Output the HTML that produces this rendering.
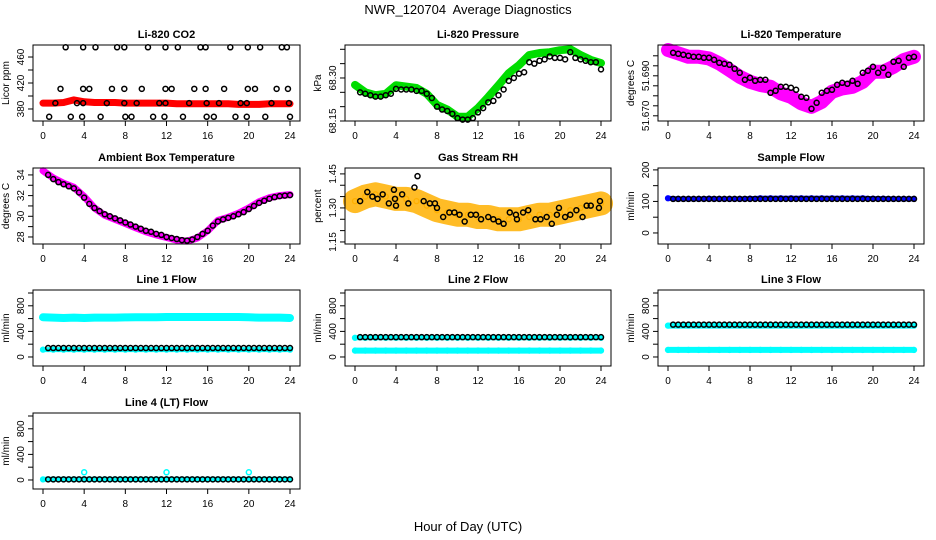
<!DOCTYPE html>
<html><head><meta charset="utf-8"><style>
html,body{margin:0;padding:0;background:#fff;}
svg{display:block;font-family:"Liberation Sans",sans-serif;}
</style></head><body>
<svg id="chart" width="936" height="540" viewBox="0 0 936 540" xmlns="http://www.w3.org/2000/svg">
<text x="468" y="14" text-anchor="middle" font-size="13" style="white-space:pre">NWR_120704  Average Diagnostics</text>
<text x="468" y="531" text-anchor="middle" font-size="13">Hour of Day (UTC)</text>
</svg>
<script>
const hours = [0,1,2,3,4,5,6,7,8,9,10,11,12,13,14,15,16,17,18,19,20,21,22,23,24];
const halfHours = [0.5,1,1.5,2,2.5,3,3.5,4,4.5,5,5.5,6,6.5,7,7.5,8,8.5,9,9.5,10,10.5,11,11.5,12,12.5,13,13.5,14,14.5,15,15.5,16,16.5,17,17.5,18,18.5,19,19.5,20,20.5,21,21.5,22,22.5,23,23.5,24];
const xTicks = [0,4,8,12,16,20,24];

// CO2
const co2Band = [389,389,390,394,391,390,390,390,389,389,389,389,389,388,388,388,388,388,388,387,387,387,388,388,388];
const co2Hours = [2.2,3.9,5.1,7.2,7.9,10.2,11.9,13.1,15.3,15.8,18.2,19.9,21.1,23.2,23.7, 1.7,3.9,4.5,6.7,7.9,9.6,11.9,12.5,14.7,15.8,17.6,19.9,20.6,22.7,23.8, 0.6,2.7,3.8,5.6,8.0,8.6,10.7,11.8,13.6,15.9,16.6,18.7,19.8,21.6,24.0, 1.2,3.3,3.9,6.2,7.9,9.1,11.3,11.9,14.2,15.9,17.1,19.2,19.8,22.2,23.9];
const co2Vals = [475,475,475,475,475,475,475,475,475,475,475,475,475,475,475, 411,411,411,411,411,411,411,411,411,411,411,411,411,411,411, 368,368,368,368,368,368,368,368,368,368,368,368,368,368,368, 389,389,389,389,389,389,389,389,389,389,389,389,389,389,389];
// Pressure
const presBand = [68.276,68.25,68.24,68.245,68.275,68.27,68.265,68.245,68.206,68.19,68.165,68.165,68.195,68.234,68.275,68.317,68.345,68.38,68.387,68.39,68.397,68.4,68.38,68.363,68.352];
const presBlack = [68.25,68.245,68.24,68.235,68.235,68.24,68.245,68.262,68.26,68.26,68.26,68.255,68.255,68.245,68.23,68.2,68.19,68.185,68.175,68.16,68.155,68.155,68.16,68.18,68.195,68.215,68.22,68.24,68.26,68.29,68.3,68.315,68.32,68.355,68.35,68.36,68.365,68.375,68.37,68.37,68.365,68.39,68.37,68.365,68.36,68.355,68.355,68.33];
// Li-820 temperature
const tempBand = [51.7029,51.7012,51.6995,51.6995,51.6987,51.6962,51.6929,51.6895,51.687,51.6854,51.6845,51.6812,51.6795,51.6762,51.6745,51.677,51.682,51.6837,51.6845,51.687,51.692,51.692,51.6945,51.6979,51.6995];
const tempBlack = [51.7015,51.701,51.7005,51.7,51.6995,51.6995,51.699,51.699,51.698,51.6965,51.696,51.6955,51.6935,51.6915,51.688,51.689,51.6875,51.688,51.688,51.6815,51.6825,51.6845,51.6845,51.684,51.683,51.6795,51.679,51.6735,51.6765,51.6815,51.6825,51.683,51.6855,51.6865,51.686,51.6875,51.686,51.6915,51.6925,51.6945,51.6915,51.694,51.6905,51.697,51.6975,51.6945,51.699,51.6995];
// Ambient
const ambBand = [34.4,33.7,33.2,32.8,31.9,30.8,30.1,29.7,29.3,28.9,28.5,28.2,27.95,27.7,27.6,27.9,28.6,29.6,29.9,30.3,30.8,31.4,31.8,32.0,32.1];
const ambBlack = [34.0,33.6,33.3,33.1,32.9,32.7,32.3,31.8,31.2,30.8,30.5,30.2,30.0,29.8,29.6,29.4,29.2,29.0,28.8,28.6,28.5,28.3,28.2,28.0,27.9,27.8,27.7,27.65,27.75,28.0,28.3,28.6,29.1,29.5,29.7,29.85,30.0,30.2,30.4,30.7,31.0,31.3,31.5,31.7,31.85,31.95,32.0,32.05];
// RH
const rhBand = [1.33,1.35,1.36,1.35,1.34,1.34,1.33,1.31,1.29,1.28,1.27,1.27,1.26,1.26,1.25,1.25,1.25,1.26,1.27,1.27,1.28,1.29,1.30,1.31,1.32];
const rhHours = [0.5,1.2,1.7,2.2,2.7,3.3,3.8,3.9,4.0,4.6,5.2,5.8,6.1,6.7,7.3,7.8,8.0,8.6,9.2,9.7,10.2,10.7,11.3,11.8,12.3,13.0,13.5,14.0,14.5,15.1,15.7,15.8,16.4,16.9,17.6,18.1,18.7,19.2,19.7,19.9,20.5,21.0,21.6,22.2,22.6,23.0,23.8,23.9];
const rhVals = [1.33,1.37,1.35,1.34,1.36,1.32,1.38,1.34,1.31,1.36,1.32,1.39,1.44,1.33,1.32,1.32,1.30,1.26,1.28,1.28,1.27,1.24,1.27,1.27,1.25,1.26,1.25,1.24,1.23,1.28,1.27,1.25,1.28,1.29,1.25,1.25,1.26,1.23,1.27,1.30,1.26,1.27,1.29,1.26,1.31,1.31,1.30,1.33];
// Flows
const sampleBand = [110,108,108,108,109,108,108,108,109,110,110,110,110,110,110,110,110,110,110,110,109,109,108,108,108];
const sampleBlack = [108];
const line1Upper = [620,615,610,615,610,615,615,615,618,620,620,620,625,625,625,625,625,625,625,625,620,615,615,615,610];
const line1Lower = [115];
const line1Black = [140];
const line2Upper = [300];
const line2Lower = [100];
const line2Black = [310];
const line3Upper = [490];
const line3Lower = [110];
const line3Black = [505];
const line4Cyan = [10];
const line4Black = [10];
const line4OutHours = [4,12,20];
const line4OutVals = [120,120,120];

const NS = "http://www.w3.org/2000/svg";
const svg = document.getElementById('chart');
function mk(tag, attrs, parent){ const e=document.createElementNS(NS,tag); for(const k in attrs) e.setAttribute(k,attrs[k]); (parent||svg).appendChild(e); return e; }

const cols = [{bx:33,bw:267},{bx:345,bw:266},{bx:658,bw:266}];
const rowsY = [45,168,290,413];
const BH = 76;

function panel(p){
  const c = cols[p.col], top = rowsY[p.row];
  const x0 = c.bx + 10, x24 = c.bx + c.bw - 10;
  const xs = h => x0 + (h/24)*(x24-x0);
  const ys = v => top + BH - (v - p.dom[0])/(p.dom[1]-p.dom[0])*BH;
  const g = mk('g',{});
  
  
  const t = mk('text',{x:c.bx+c.bw/2,y:top-7,'text-anchor':'middle','font-size':'11','font-weight':'bold'},g);
  t.textContent = p.title;
  
  
  const sg = mk('g',{},g);
  
  
  (p.bands||[]).forEach(b=>{
    let vals = b.vals.length===1 ? hours.map(()=>b.vals[0]) : b.vals;
    const pts = hours.map((h,i)=>xs(h).toFixed(1)+','+ys(vals[i]).toFixed(1)).join(' ');
    const pl = mk('polyline',{points:pts,fill:'none',stroke:b.color,'stroke-width':b.w,'stroke-linecap':'round','stroke-linejoin':'round','opacity':b.op||1},sg);
    
    
    hours.forEach((h,i)=>{
      const cc = mk('circle',{cx:xs(h),cy:ys(vals[i]),r:2.5,fill:'none',stroke:b.color,'stroke-width':1.3},sg);
      
      
    });
  });
  (p.pts||[]).forEach(s=>{
    s.h.forEach((h,i)=>{
      const v = s.v.length===1 ? s.v[0] : s.v[i];
      const cc = mk('circle',{cx:xs(h),cy:ys(v),r:2.5,fill:'none',stroke:s.color,'stroke-width':1.5},sg);
      
      
    });
  });
  const r = mk('rect',{x:c.bx,y:top,width:c.bw,height:BH,fill:'none',stroke:'#000','stroke-width':1},g);
  
  
  const xa = mk('g',{},g);
  
  
  mk('line',{x1:xs(0),x2:xs(24),y1:top+BH,y2:top+BH,stroke:'#000'},xa);
  xTicks.forEach(v=>{
    mk('line',{x1:xs(v),x2:xs(v),y1:top+BH,y2:top+BH+5,stroke:'#000'},xa);
    const tt = mk('text',{x:xs(v),y:top+BH+18,'text-anchor':'middle','font-size':'10'},xa);
    tt.textContent = v;
    
    
  });
  const ya = mk('g',{},g);
  
  
  const yt = p.yTicks;
  mk('line',{x1:c.bx,x2:c.bx,y1:ys(yt[0]),y2:ys(yt[yt.length-1]),stroke:'#000'},ya);
  yt.forEach(v=>{ mk('line',{x1:c.bx-5,x2:c.bx,y1:ys(v),y2:ys(v),stroke:'#000'},ya); });
  p.yLabels.forEach(v=>{
    const yy = ys(v), xx = c.bx-9;
    const tt = mk('text',{x:xx,y:yy,'text-anchor':'middle','font-size':'10',transform:'rotate(-90 '+xx+' '+yy+')'},ya);
    tt.textContent = p.fmt ? v.toFixed(p.fmt) : v;
    
    
  });
  const ly = top+BH/2, lx = c.bx-24;
  const yl = mk('text',{x:lx,y:ly,'text-anchor':'middle','font-size':'10',transform:'rotate(-90 '+lx+' '+ly+')'},ya);
  yl.textContent = p.ylab;
  
  
}

const flowTicks=[0,200,400,600,800,1000], flowLabels=[0,400,800], flowDom=[-141,1047];
const panels = [
 {name:'co2',col:0,row:0,title:'Li-820 CO2',ylab:'Licor ppm',dom:[361.5,478.5],yTicks:[380,400,420,440,460],yLabels:[380,420,460],
  bands:[{vals:co2Band,color:'#ff0000',w:7}],pts:[{h:co2Hours,v:co2Vals,color:'#000'}]},
 {name:'pressure',col:1,row:0,title:'Li-820 Pressure',ylab:'kPa',dom:[68.15,68.415],yTicks:[68.15,68.2,68.25,68.3,68.35,68.4],yLabels:[68.15,68.3],fmt:2,
  bands:[{vals:presBand,color:'#00dd00',w:8}],pts:[{h:halfHours,v:presBlack,color:'#000'}]},
 {name:'li820-temperature',col:2,row:0,title:'Li-820 Temperature',ylab:'degrees C',dom:[51.6674,51.7054],yTicks:[51.67,51.675,51.68,51.685,51.69,51.695,51.7],yLabels:[51.67,51.69],fmt:3,
  bands:[{vals:tempBand,color:'#ff00ff',w:14}],pts:[{h:halfHours,v:tempBlack,color:'#000'}]},
 {name:'ambient-temperature',col:0,row:1,title:'Ambient Box Temperature',ylab:'degrees C',dom:[27.32,34.67],yTicks:[28,29,30,31,32,33,34],yLabels:[28,30,32,34],
  bands:[{vals:ambBand,color:'#ff00ff',w:7}],pts:[{h:halfHours,v:ambBlack,color:'#000'}]},
 {name:'gas-rh',col:1,row:1,title:'Gas Stream RH',ylab:'percent',dom:[1.141,1.476],yTicks:[1.15,1.2,1.25,1.3,1.35,1.4,1.45],yLabels:[1.15,1.3,1.45],fmt:2,
  bands:[{vals:rhBand,color:'#ffb000',w:24,op:0.85}],pts:[{h:rhHours,v:rhVals,color:'#000'}]},
 {name:'sample-flow',col:2,row:1,title:'Sample Flow',ylab:'ml/min',dom:[-35,206],yTicks:[0,50,100,150,200],yLabels:[0,100,200],
  bands:[{vals:sampleBand,color:'#0000ff',w:5}],pts:[{h:halfHours,v:sampleBlack,color:'#000'}]},
 {name:'line1-flow',col:0,row:2,title:'Line 1 Flow',ylab:'ml/min',dom:flowDom,yTicks:flowTicks,yLabels:flowLabels,
  bands:[{vals:line1Upper,color:'#00ffff',w:8},{vals:line1Lower,color:'#00ffff',w:5}],pts:[{h:halfHours,v:line1Black,color:'#000'}]},
 {name:'line2-flow',col:1,row:2,title:'Line 2 Flow',ylab:'ml/min',dom:flowDom,yTicks:flowTicks,yLabels:flowLabels,
  bands:[{vals:line2Upper,color:'#00ffff',w:5},{vals:line2Lower,color:'#00ffff',w:6}],pts:[{h:halfHours,v:line2Black,color:'#000'}]},
 {name:'line3-flow',col:2,row:2,title:'Line 3 Flow',ylab:'ml/min',dom:flowDom,yTicks:flowTicks,yLabels:flowLabels,
  bands:[{vals:line3Upper,color:'#00ffff',w:6},{vals:line3Lower,color:'#00ffff',w:6}],pts:[{h:halfHours,v:line3Black,color:'#000'}]},
 {name:'line4-flow',col:0,row:3,title:'Line 4 (LT) Flow',ylab:'ml/min',dom:flowDom,yTicks:flowTicks,yLabels:flowLabels,
  bands:[{vals:line4Cyan,color:'#00ffff',w:5}],pts:[{h:halfHours,v:line4Black,color:'#000'},{h:line4OutHours,v:line4OutVals,color:'#00ffff'}]}
];
panels.forEach(panel);
</script>
</body></html>
